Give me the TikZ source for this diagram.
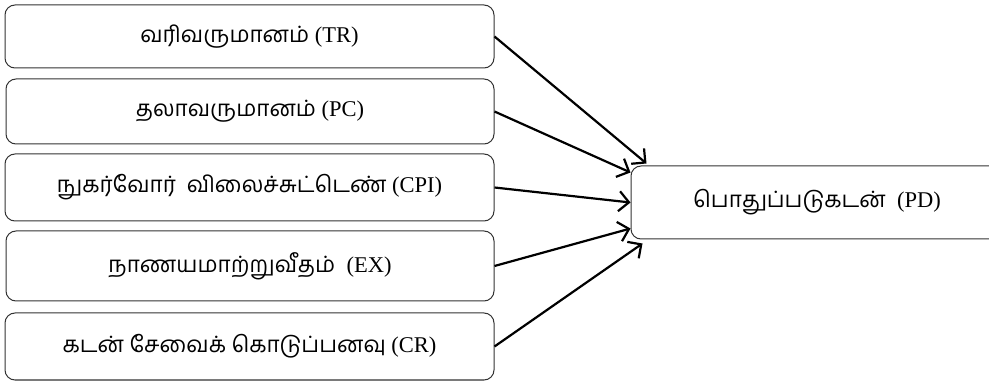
\documentclass[tikz,border=0pt]{standalone}
\usepackage{fontspec}
\setmainfont{Liberation Serif}
\newfontfamily\tamilfont[Script=Tamil]{Hind Madurai}
\usetikzlibrary{arrows.meta}
\newcommand\tm[1]{{\tamilfont #1}}
\begin{document}
\begin{tikzpicture}[x=1pt,y=-1pt,
  box/.style={draw=black!80, line width=1pt, rounded corners=10pt, fill=white,
    inner sep=0pt, font=\fontsize{22.5}{26}\selectfont},
  conn/.style={line width=2.2pt, -{Straight Barb[length=10pt,width=20pt,line width=2.2pt]}}]
\useasboundingbox (0,0) rectangle (989,382);
\node[box, minimum width=489pt, minimum height=63pt] (tr) at (249.5,36.5) {\tm{வரிவருமானம்} (TR)};
\node[box, minimum width=488pt, minimum height=65pt] (pc) at (250,111.5) {\tm{தலாவருமானம்} (PC)};
\node[box, minimum width=489pt, minimum height=67pt] (cpi) at (249.5,187.5) {\tm{நுகர்வோர்\ \ விலைச்சுட்டெண்} (CPI)};
\node[box, minimum width=488pt, minimum height=70pt] (ex) at (250,266) {\tm{நாணயமாற்றுவீதம்}\ \ (EX)};
\node[box, minimum width=489pt, minimum height=67pt] (cr) at (249.5,346.5) {\tm{கடன் சேவைக் கொடுப்பனவு} (CR)};
\node[box, minimum width=372pt, minimum height=73pt] (pd) at (817,202.5) {\tm{பொதுப்படுகடன்}\ \ (PD)};
\coordinate (e1) at ([xshift=16pt,yshift=2pt]pd.north west);
\coordinate (e2) at ([yshift=-7pt]pd.north west);
\coordinate (e3) at (pd.west);
\coordinate (e4) at ([yshift=11pt]pd.south west);
\coordinate (e5) at ([xshift=12pt,yshift=-4pt]pd.south west);
\draw[conn] (tr.east) -- (e1);
\draw[conn] (pc.east) -- (e2);
\draw[conn] (cpi.east) -- (e3);
\draw[conn] (ex.east) -- (e4);
\draw[conn] (cr.east) -- (e5);
\end{tikzpicture}
\end{document}
